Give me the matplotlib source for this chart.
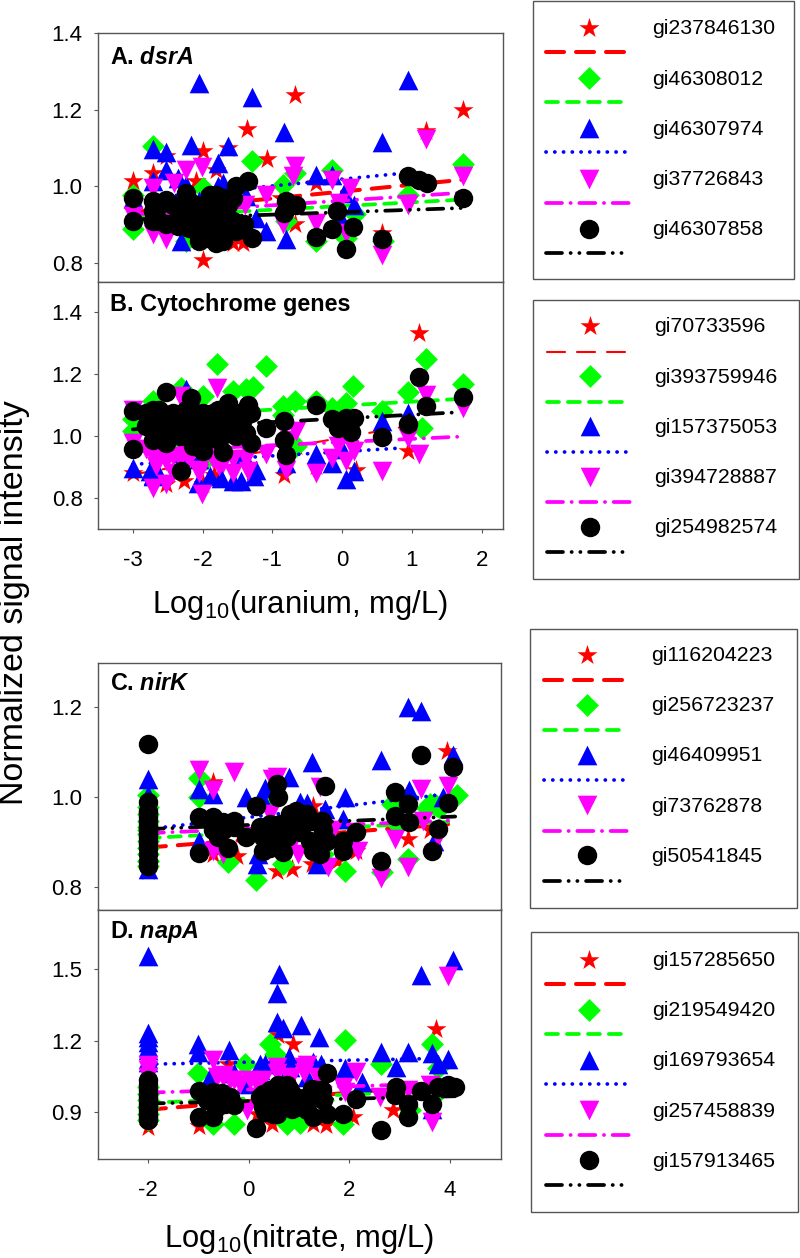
import matplotlib
matplotlib.use("Agg")
import matplotlib.pyplot as plt
from matplotlib.patches import Rectangle

plt.rcParams['font.family'] = ['Liberation Sans', 'DejaVu Sans']
plt.rcParams['mathtext.fontset'] = 'custom'
plt.rcParams['mathtext.rm'] = 'Liberation Sans'
plt.rcParams['mathtext.it'] = 'Liberation Sans:italic'
plt.rcParams['mathtext.bf'] = 'Liberation Sans:bold'
plt.rcParams['mathtext.bfit'] = 'Liberation Sans:italic:bold'
plt.rcParams['lines.scale_dashes'] = False

# panel A, dsrA vs uranium
a_red_x = [-3, -2.71, -2.52, -2, -1.64, -1.37, -1.08, -.67, 1.74, 1.21, -.37, -2.09, -3, -.67, -1.57, -1.42, -2, -1.81, .57, -.87]
a_red_y = [1.013, 1.035, 1.078, 1.093, 1.10, 1.15, 1.07, 1.237, 1.2, 1.143, 1.009, 1.013, .935, .9, .852, .852, .807, 1.043, .878, .97]
a_green_x = [-2.71, -3, -3, -1.29, -.85, -.68, -.14, -2, .95, 1.74, -.37, .05, .19, -.8, -2.24, -2.71, .58, -2.5, -1.95]
a_green_y = [1.104, .978, .887, 1.065, 1.004, 1.035, 1.043, .996, .978, 1.058, .857, .865, .926, .909, .857, .909, .857, .9, .9]
a_blue_x = [-2.71, -2.52, -2.16, -2.05, -1.64, -1.29, -.83, -1.78, -2.52, -2.71, -2.36, -2.24, -1.78, -1.71, -2.05, -1.38, -.37, -.14, .57, .95, .03, .17, -1.09, -.8, -2.31, -3, -1.24, 0]
a_blue_y = [1.098, 1.09, 1.107, 1.269, 1.104, 1.232, 1.142, 1.061, 1.043, 1.013, 1.022, 1.004, 1, 1.009, .961, .974, 1.029, 1.03, 1.116, 1.276, .983, .952, .884, .861, .857, .97, .918, .91]
a_pink_x = [-2.24, -2.01, -2.41, -2.71, -3, -2.71, -2.53, -1.52, -1.39, -1.09, -.67, -.7, -.14, .12, -.04, -.38, .05, .95, 1.21, 1.74, .57, -.85, -2.47, -2.19]
a_pink_y = [1.041, 1.05, 1.009, .996, .922, .874, .861, .978, .952, .978, 1.052, 1.026, 1.017, .996, .957, .904, .878, .952, 1.122, 1.026, .82, .9, .935, .9]
a_black_x = [-3, -3, -2.71, -2.71, -2.52, -2.52, -2.36, -2.24, -2.19, -2.14, -2.05, -2, -1.81, -1.78, -1.81, -1.71, -1.64, -1.64, -1.52, -1.35, -1.40, -1.29, -.8, -.83, -.66, -.37, -.14, -.08, .05, .15, .57, .95, 1.10, 1.22, 1.74, -2.1, -1.95, -1.85, -1.7,
             -2.71, -2.62, -2.43, -2.33, -2.19, -2.05, -1.95, -1.93, -1.88, -1.81, -1.71, -1.66, -1.57, -1.57, -1.52, -1.47, -1.95, -2.19, -2.38, -2.62, -1.9, -2.09, -1.81, -1.71, -1.95]
a_black_y = [.970, .910, .961, .935, .965, .900, .896, .983, .926, .900, .857, .900, .978, .948, .852, .900, .952, .891, 1.0, 1.013, .9, .865, .961, .93, .952, .868, .887, .935, .835, .894, .861, 1.026, 1.017, 1.009, .97, .95, .93, .93, .95,
             .909, .952, .952, .935, .961, .935, .952, .9, .935, .917, .97, .917, .97, .909, .883, .9, .865, .891, .909, .909, .978, .883, .883, .857, .883]
a_line_x = [[-3, 1.74], [-3, 1.74], [-3, 1.0], [-3, 1.74], [-3, 1.74]]
a_line_y = [[.932, 1.017], [.919, .965], [.965, 1.036], [.926, .983], [.913, .943]]

# panel B, cytochrome genes vs uranium
b_red_x = [1.1, .95, -3, -.83, -2.52, -2, -2.26, -1.83, -.37, .2, -.66]
b_red_y = [1.335, .952, .882, .876, .844, .844, .855, .876, .903, .892, .968]
b_green_x = [-1.8, -1.09, 1.21, 1.74, .15, .95, -1.28, -1.38, -1.57, -2.31, -2, -2.71, -3, -3, -.85, -.68, -.37, -.14, .05, .57, 1.15, -.66, -1.95, -.85, -2.43]
b_green_y = [1.233, 1.228, 1.251, 1.17, 1.161, 1.142, 1.159, 1.151, 1.145, 1.156, 1.129, 1.113, 1.054, 1.016, 1.097, 1.113, 1.113, 1.091, 1.108, 1.081, 1.027, .968, .925, 1.07, .968]
b_blue_x = [-3, -2.76, -2.71, -2.64, -2.24, -2.05, -2.07, -1.74, -1.57, -1.45, -1.26, -1.4, -.8, -.38, -.14, .05, .17, .57, .95, 0, -2.71, -1.24, -1.9]
b_blue_y = [.898, .887, .876, .882, 1.151, .925, .849, .866, .855, .855, .871, .935, .914, .941, .914, .862, .887, 1.048, 1.075, .957, .871, .892, .871]
b_pink_x = [-3, -3, -2.71, -2.52, -2.01, -1.8, -2.24, -2.52, -2.71, -2.33, -2.05, -1.71, -1.57, -1.35, -1.09, -.8, -.66, -.38, -.14, -.06, .05, .17, .57, .95, 1.1, 1.21, 1.74, -.76, -1.38,
            -2.81, -2.62, -2.43, -2.33, -2.19, -2.05, -1.85, -1.76, -1.57, -1.38, -2.67, -2.43]
b_pink_y = [1.086, .978, .833, .844, .812, 1.156, .946, .919, .935, 1.129, .882, .914, .882, .887, .941, .892, 1.016, .882, .93, .968, .919, .952, .887, .995, .941, 1.134, 1.091, .989, .962,
            .957, .925, .935, .925, .925, .892, .925, .903, .925, .925, .903, .882]
b_black_x = [-3, -3, -2.71, -2.71, -2.71, -2.52, -2.52, -2.52, -2.33, -2.16, -2.19, -2, -2, -1.78, -1.71, -1.71, -1.64, -1.57, -1.35, -1.31, -1.31, -1.09, -2.31, -.83, -.84, -.8, -.38, -.14, -.06, .05, .13, .17, .57, .95, 1.1, 1.21, 1.74, -1.9, -2.05, -1.52,
             -2.81, -2.81, -2.67, -2.62, -2.43, -2.43, -2.33, -2.24, -2.09, -2.09, -2, -1.95, -1.9, -1.85, -1.81, -1.76, -1.62, -1.52, -1.47, -1.42, -1.38, -2.62, -2.24, -2.14]
b_black_y = [1.081, .957, 1.086, 1.054, .989, 1.143, 1.054, .978, 1.054, 1.124, 1.032, 1.075, .952, 1.086, 1.032, .948, 1.108, 1.054, 1.102, 1.075, .978, 1.027, .887, 1.048, .989, .939, 1.102, 1.054, 1.027, 1.059, 1.013, 1.059, .997, 1.041, 1.19, 1.097, 1.127, 1.032, 1.011, 1.0,
             1.075, 1.032, 1.011, 1.086, 1.075, 1.022, 1.0, 1.086, 1.075, 1.032, 1.022, .989, 1.054, 1.075, 1.032, .989, 1.011, 1.075, 1.032, 1.054, 1.011, 1.032, 1.0, .968]
b_line_x = [[-3, 1.0], [-3, 1.65], [-3, .87], [-3, 1.65], [-3, 1.65]]
b_line_y = [[.876, 1.035], [1.06, 1.12], [.909, .962], [.95, .998], [1.022, 1.077]]

# panel C, nirK vs nitrate
c_red_x = [-2, -.7, .56, .86, 3.17, 3.93, 2.14, -.24, 1.25, 1.75, 3.6, -.7, 1.28]
c_red_y = [.835, 1.033, .835, .84, .907, 1.103, .881, .87, .851, .859, .926, .874, .981]
c_green_x = [-2, -2, -2, -.995, -.995, -.4, .14, 1.91, 3.17, 3.73, 4.13, 2.64, .69, .36, 2.84, 2.94, 1.48, 3.6,
             -2, -2, -2, -2, -2, -2, -2, -2, -2, -2, 3.68, 3.55, 3.8]
c_green_y = [1.004, .926, .859, 1.043, 1, .855, .816, .835, .862, .981, 1.004, .833, .851, .993, .985, .94, .874, .985,
             .978, .963, .948, .933, .918, .903, .888, .874, .859, .847, .985, .975, .975]
c_blue_x = [-2, -2, -2, -.995, -.7, -.06, .33, .8, 1.02, 1.15, 1.26, 1.52, 1.92, 1.88, 2.63, 3.17, 3.42, 3.19, 4.06, 3.86, 3.67, -.995, .19, .16, 1.35, .29, -2]
c_blue_y = [1.04, 1.004, .989, 1.019, 1.007, 1.001, 1.02, 1.045, .989, .987, 1.078, .974, 1, .952, 1.084, 1.201, 1.193, 1.016, 1.093, 1, .903, .903, .874, .851, .851, .993, .84]
c_pink_x = [-.995, -.3, -.7, .56, .46, 1.42, -.7, -.5, .43, .99, .82, 1.58, 2.18, 1.68, 2.63, 2.9, 3.17, 3.42, 3.95, 3.76, -2, -.17, 3.47, .8]
c_pink_y = [1.06, 1.056, 1.015, 1.045, 1.041, 1.022, .881, .874, .963, .874, .888, .844, .881, .926, .821, .907, .844, 1.019, 1.024, .911, .877, .918, .948, .9]
c_black_x = [-2, -2, -2, -2, -2, -2, -2, -2, -2, -.995, -.995, -.7, -.7, -.5, -.4, -.3, -.05, .14, .23, .29, .49, .56, .59, .69, .82, .95, 1.02, 1.15, 1.28, 1.42, 1.45, 1.52, 1.55, 1.88, 1.88, 2.14, 2.63, 2.9, 2.9, 3.17, 3.19, 3.42, 3.65, 3.76, 3.95, 4.06, .43, .76, .89,
             -2, -2, -2, -2, -2, -2, -2, -2, .29, .43, .62, .76, .56, 1.09, 1.28, 1.48, .43, .82, 1.22, -.6, -.3, -.5]
c_black_y = [1.119, .989, .97, .955, .94, .926, .911, .896, .847, .955, .876, .955, .926, .944, .888, .948, .911, .981, .933, .881, .933, 1.03, 1.0, .877, .963, .97, .922, .963, .881, .874, .948, 1.026, .903, .903, .881, .922, .857, 1.011, .959, .984, .944, 1.093, .881, .929, .987, 1.068, .903, .918, .94,
             .963, .948, .933, .918, .903, .888, .874, .859, .911, .94, .94, .911, .896, .94, .948, .926, .888, .926, .903, .911, .933, .926]
c_line_x = [[-2, 3.96], [-2, 3.96], [-2, 3.93], [-2, 3.96], [-2, 4.1]]
c_line_y = [[.888, .94], [.909, .945], [.929, 1.007], [.92, .948], [.929, .957]]

# panel D, napA vs nitrate
d_red_x = [-2, -.995, .89, 3.72, -.41, 1.54, 2.87, .16, .46, 1.28, .59, 2.08]
d_red_y = [.835, .839, 1.187, 1.248, 1.103, .845, .906, .892, .849, .849, 1.222, .877]
d_green_x = [-2, -2, -2, -1.01, -.07, .43, .53, 1.91, 3.65, 3.76, 2.62, -.3, .76, 1.02, -.7, 1.88, 1.48, 3.66, 3.2, -2, -2, -2]
d_green_y = [1.004, .948, .863, 1.061, 1.103, 1.187, 1.145, 1.201, 1.185, 1.082, 1.103, .849, .849, .852, .849, .849, .948, .962, .906, .976, .92, .892]
d_blue_x = [-2, -2, -2, -2, -2, -1.01, -1.01, -.38, -.76, -.07, .23, .33, .56, .61, .56, .69, 1.03, 1.4, .8, 1.27, 1.44, 1.91, 2.25, 2.63, 2.93, 3.17, 3.42, 3.65, 3.76, 3.96, 4.06, 3.65,
            -2, -2, -2, 1.15, .82, .23, -.3]
d_blue_y = [1.556, 1.23, 1.194, 1.159, 1.124, 1.187, 1.152, 1.159, 1.046, 1.018, 1.103, 1.103, 1.399, 1.48, 1.279, 1.251, 1.265, 1.215, 1.131, 1.11, 1.103, 1.082, 1.025, 1.152, 1.089, 1.152, 1.476, 1.148, 1.103, 1.124, 1.539, .913,
            1.215, 1.173, 1.11, 1.046, 1.089, 1.075, 1.061]
d_pink_x = [-2, -2, -.7, -.5, -.3, -.03, .16, .56, 1.09, 1.15, .82, .95, 2.14, 1.88, 1.91, 2.61, 3.17, 3.65, 3.96, 3.6, -.5,
            -2, -.63, -.37, .03, .29, .56, .82, 1.09, 1.35, -.17]
d_pink_y = [1.075, 1.046, 1.117, 1.054, 1.032, .906, 1.018, 1.089, 1.089, 1.096, 1.032, .92, 1.068, 1.004, .983, .962, .99, .856, 1.472, 1.011, 1.046,
            1.096, 1.046, 1.032, 1.032, 1.032, 1.061, 1.046, 1.061, 1.046, 1.018]
d_black_x = [-2, -2, -2, -2, -2, -2, -.995, -.995, -.7, -.7, -.53, -.47, -.3, .14, .23, .33, .36, .49, .59, .76, .86, .95, 1.28, 1.25, 1.45, 1.55, 1.55, 1.88, 2.14, 2.63, 2.93, 2.9, 3.17, 3.17, 3.42, 3.65, 3.76, 3.95, 4.09, .69, .56, 1.09, .29,
             -2, -2, -2, -2, -2, -2, .29, .43, .29, .49, .69, .82, .95, 1.15, 1.35, 1.48, 1.15, -.5, -.37, -.63, -.83, .56]
d_black_y = [1.011, .976, .948, .92, .892, .863, .987, .877, .983, .877, .979, .934, .927, .83, .962, .899, .976, .892, 1.011, 1.011, .913, .962, .877, .997, .99, 1.061, .892, .892, .952, .824, 1.004, .969, .934, .877, .986, .934, 1.004, 1.014, 1.004, .948, .934, .948, .934,
             1.032, .99, .962, .934, .906, .877, .976, .99, .92, .934, .948, .99, .92, .962, .99, .948, .906, .948, .962, .92, .948, .892]
d_line_x = [[-2, 4], [-2, 4], [-2, 3.9], [-2, 4], [-2, 4.1]]
d_line_y = [[.908, 1.016], [.937, .99], [1.10, 1.125], [.98, 1.02], [.934, .965]]

# legend names
a_names = ['gi237846130', 'gi46308012', 'gi46307974', 'gi37726843', 'gi46307858']
b_names = ['gi70733596', 'gi393759946', 'gi157375053', 'gi394728887', 'gi254982574']
c_names = ['gi116204223', 'gi256723237', 'gi46409951', 'gi73762878', 'gi50541845']
d_names = ['gi157285650', 'gi219549420', 'gi169793654', 'gi257458839', 'gi157913465']

colors = ['#ff0000', '#00ff00', '#0000ff', '#ff00ff', '#000000']
markers = ['*', 'D', '^', 'v', 'o']
sizes = [230, 135, 200, 200, 196]
# dash patterns in points, round caps
dashes = [(0, (13, 8.6)), (0, (8.6, 6.5)), (0, (0.1, 6.2)),
          (0, (11.5, 6.2, 0.1, 6.2)), (0, (11.5, 6.2, 0.1, 6.2, 0.1, 6.2))]
EDGE = '#555555'
W, H = 800, 1258

fig = plt.figure(figsize=(W / 100, H / 100), dpi=100)


def panel_axes(left, top, right, bottom):
    ax = fig.add_axes([left / W, 1 - bottom / H, (right - left) / W, (bottom - top) / H])
    for s in ax.spines.values():
        s.set_color(EDGE)
        s.set_linewidth(1.0)
    return ax


def draw_panel(ax, xs, ys, line_x, line_y, red_lw=2.9):
    # each series sits under the next one, markers first and its fit line on top
    for i in range(5):
        ax.scatter(xs[i], ys[i], s=sizes[i], c=colors[i], marker=markers[i], linewidths=0, zorder=2 * i + 1)
        lw = red_lw if i == 0 else 2.7
        ax.plot(line_x[i], line_y[i], color=colors[i], lw=lw, ls=dashes[i], dash_capstyle='round', zorder=2 * i + 2)


def style_axis(ax, xlim, ylim, yticks, xticks=None):
    ax.set_xlim(*xlim)
    ax.set_ylim(*ylim)
    ax.set_yticks(yticks)
    ax.set_yticklabels([f'{v:.1f}' for v in yticks])
    ax.tick_params(axis='y', labelsize=16, length=3, width=0.8, color=EDGE, pad=8)
    if xticks is None:
        ax.set_xticks([])
    else:
        ax.set_xticks(xticks)
        ax.set_xticklabels([str(v) for v in xticks])
        ax.tick_params(axis='x', labelsize=16, length=3, width=0.8, color=EDGE, pad=12)


ax_a = panel_axes(98, 33, 502.5, 281.5)
draw_panel(ax_a, [a_red_x, a_green_x, a_blue_x, a_pink_x, a_black_x],
           [a_red_y, a_green_y, a_blue_y, a_pink_y, a_black_y], a_line_x, a_line_y)
style_axis(ax_a, (-3.5, 2.3), (.751, 1.4), [.8, 1.0, 1.2, 1.4])

ax_b = panel_axes(98, 281.5, 502.5, 529)
draw_panel(ax_b, [b_red_x, b_green_x, b_blue_x, b_pink_x, b_black_x],
           [b_red_y, b_green_y, b_blue_y, b_pink_y, b_black_y], b_line_x, b_line_y, red_lw=1.5)
style_axis(ax_b, (-3.5, 2.3), (.7, 1.5), [.8, 1.0, 1.2, 1.4], [-3, -2, -1, 0, 1, 2])

ax_c = panel_axes(97.5, 662.5, 500.5, 909.5)
draw_panel(ax_c, [c_red_x, c_green_x, c_blue_x, c_pink_x, c_black_x],
           [c_red_y, c_green_y, c_blue_y, c_pink_y, c_black_y], c_line_x, c_line_y)
style_axis(ax_c, (-3, 5), (.75, 1.3), [.8, 1.0, 1.2])

ax_d = panel_axes(97.5, 909.5, 500.5, 1159)
draw_panel(ax_d, [d_red_x, d_green_x, d_blue_x, d_pink_x, d_black_x],
           [d_red_y, d_green_y, d_blue_y, d_pink_y, d_black_y], d_line_x, d_line_y)
style_axis(ax_d, (-3, 5), (.7, 1.753), [.9, 1.2, 1.5], [-2, 0, 2, 4])

# overlay in pixel coordinates for legends and free text
over = fig.add_axes([0, 0, 1, 1], zorder=10)
over.set_xlim(0, W)
over.set_ylim(H, 0)
over.axis('off')


def draw_legend(left, top, right, bottom, mx, first_y, line_y, text_x, names, red_lw=2.9):
    over.add_patch(Rectangle((left, top), right - left, bottom - top, fc='white', ec=EDGE, lw=1.0))
    ends = [627, 625, 633, 633, 625]
    shift = mx - 589
    for i in range(5):
        y = first_y + i * 50.2
        ly = line_y + i * 50.2
        over.scatter([mx], [y], s=sizes[i], c=colors[i], marker=markers[i], linewidths=0)
        lw = red_lw if i == 0 else 2.7
        over.plot([546 + shift, ends[i] + shift], [ly, ly], color=colors[i], lw=lw, ls=dashes[i], dash_capstyle='round')
        over.text(text_x, y + 1, names[i], fontsize=15.3, va='center', ha='left')


draw_legend(533, 1, 794, 279, 589, 28, 52, 652.5, a_names)
draw_legend(532.5, 299.5, 798.5, 578.5, 589.5, 326, 351.5, 654, b_names, red_lw=1.5)
draw_legend(529.5, 628.5, 796.5, 907.5, 587, 654.5, 680, 651, c_names)
draw_legend(531, 932, 797.5, 1212, 588.5, 959.5, 984, 652.5, d_names)

titles = [(110, 57, r'A. $\mathbfit{dsrA}$'), (110, 305, 'B. Cytochrome genes'),
          (110, 683, r'C. $\mathbfit{nirK}$'), (110, 932, r'D. $\mathbfit{napA}$')]
for tx, ty, label in titles:
    over.text(tx, ty, label, fontsize=16.8, fontweight='bold', va='center', ha='left')

over.text(300, 613, r'Log$_{10}$(uranium, mg/L)', fontsize=22.3, ha='center', va='baseline')
over.text(299, 1247, r'Log$_{10}$(nitrate, mg/L)', fontsize=22.3, ha='center', va='baseline')
over.text(15, 603, 'Normalized signal intensity', fontsize=24.5, rotation=90, ha='center', va='center')

fig.savefig('out.png', dpi=100)
